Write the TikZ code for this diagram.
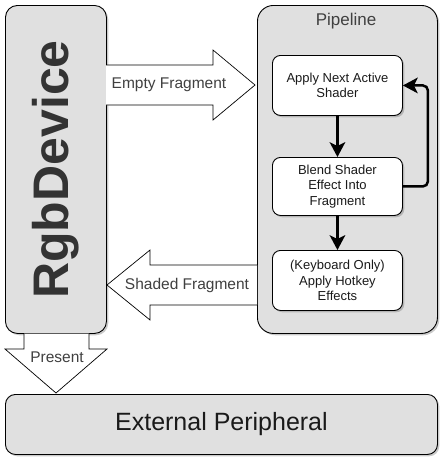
\documentclass[tikz,border=0pt]{standalone}
\usepackage{fontspec}
\setmainfont{Liberation Sans}
\usetikzlibrary{arrows.meta,shadows}
\definecolor{boxgray}{HTML}{E0E0E0}
\definecolor{lbl}{HTML}{404040}
\definecolor{dark}{HTML}{333333}
\definecolor{ink}{HTML}{1A1A1A}
\tikzset{
  shad/.style={drop shadow={shadow xshift=1.8pt, shadow yshift=-1.8pt, opacity=0.35, fill=black!60}},
  graybox/.style={draw=black, line width=0.9pt, fill=boxgray, shad, inner sep=0pt, anchor=north west},
  stepbox/.style={draw=black, line width=0.9pt, fill=white, rounded corners=8pt, shad, anchor=north west,
    minimum width=130pt, minimum height=60pt, align=center, text=ink, inner sep=0pt,
    font=\fontsize{13}{15.5}\selectfont},
  blockarrow/.style={draw=black, line width=0.7pt, fill=white, line join=miter},
  arrlabel/.style={text=lbl, font=\fontsize{15.5}{18}\selectfont, inner sep=0pt},
  flow/.style={draw=black, line width=2.5pt, arrows={-Stealth[length=15pt,width=16pt,inset=4pt,line width=0pt]}}
}
\begin{document}
\begin{tikzpicture}[x=1pt,y=-1pt]
\useasboundingbox (0,0) rectangle (447,463);
% main boxes
\node[graybox, rounded corners=12pt, minimum width=101pt, minimum height=328pt] (rgb) at (5,5) {};
\node[graybox, rounded corners=16pt, minimum width=180pt, minimum height=328pt] (pipe) at (257,5) {};
\node[graybox, rounded corners=10pt, minimum width=432pt, minimum height=60pt] (ext) at (5,394) {};
\node[rotate=90, text=dark, font=\fontsize{50}{50}\selectfont\bfseries] (rgbt) at (rgb.center) {RgbDevice};
\node[text=lbl, font=\fontsize{17}{18}\selectfont] (pipet) at (346,21) {Pipeline};
\node[text=ink, font=\fontsize{25}{28}\selectfont] (extt) at (ext.center) {External Peripheral};
% pipeline steps
\node[stepbox] (s1) at (272,55) {Apply Next Active\\Shader};
\node[stepbox, minimum height=58pt] (s2) at (272,157) {Blend Shader\\Effect Into\\Fragment};
\node[stepbox] (s3) at (272,250) {(Keyboard Only)\\Apply Hotkey\\Effects};
\draw[flow] (s1) -- (s2);
\draw[flow] (s2) -- (s3);
\draw[flow, rounded corners=5pt] (s2.east) -- ++(25,0) |- (s1.east);
% block arrows
\draw[blockarrow] (106,65) -- (213,65) -- (213,50) -- (255,85) -- (213,120) -- (213,105) -- (106,105);
\node[arrlabel] (ef) at (169,85) {Empty Fragment};
\draw[blockarrow] (257,265) -- (150,265) -- (150,250) -- (107,285) -- (150,320) -- (150,305) -- (257,305);
\node[arrlabel] (sf) at (187,285) {Shaded Fragment};
\draw[blockarrow] (24,333.5) -- (24,349) -- (5,349) -- (56,393) -- (107,349) -- (89,349) -- (89,333.5);
\node[arrlabel] (pr) at (57,357) {Present};
\end{tikzpicture}
\end{document}
